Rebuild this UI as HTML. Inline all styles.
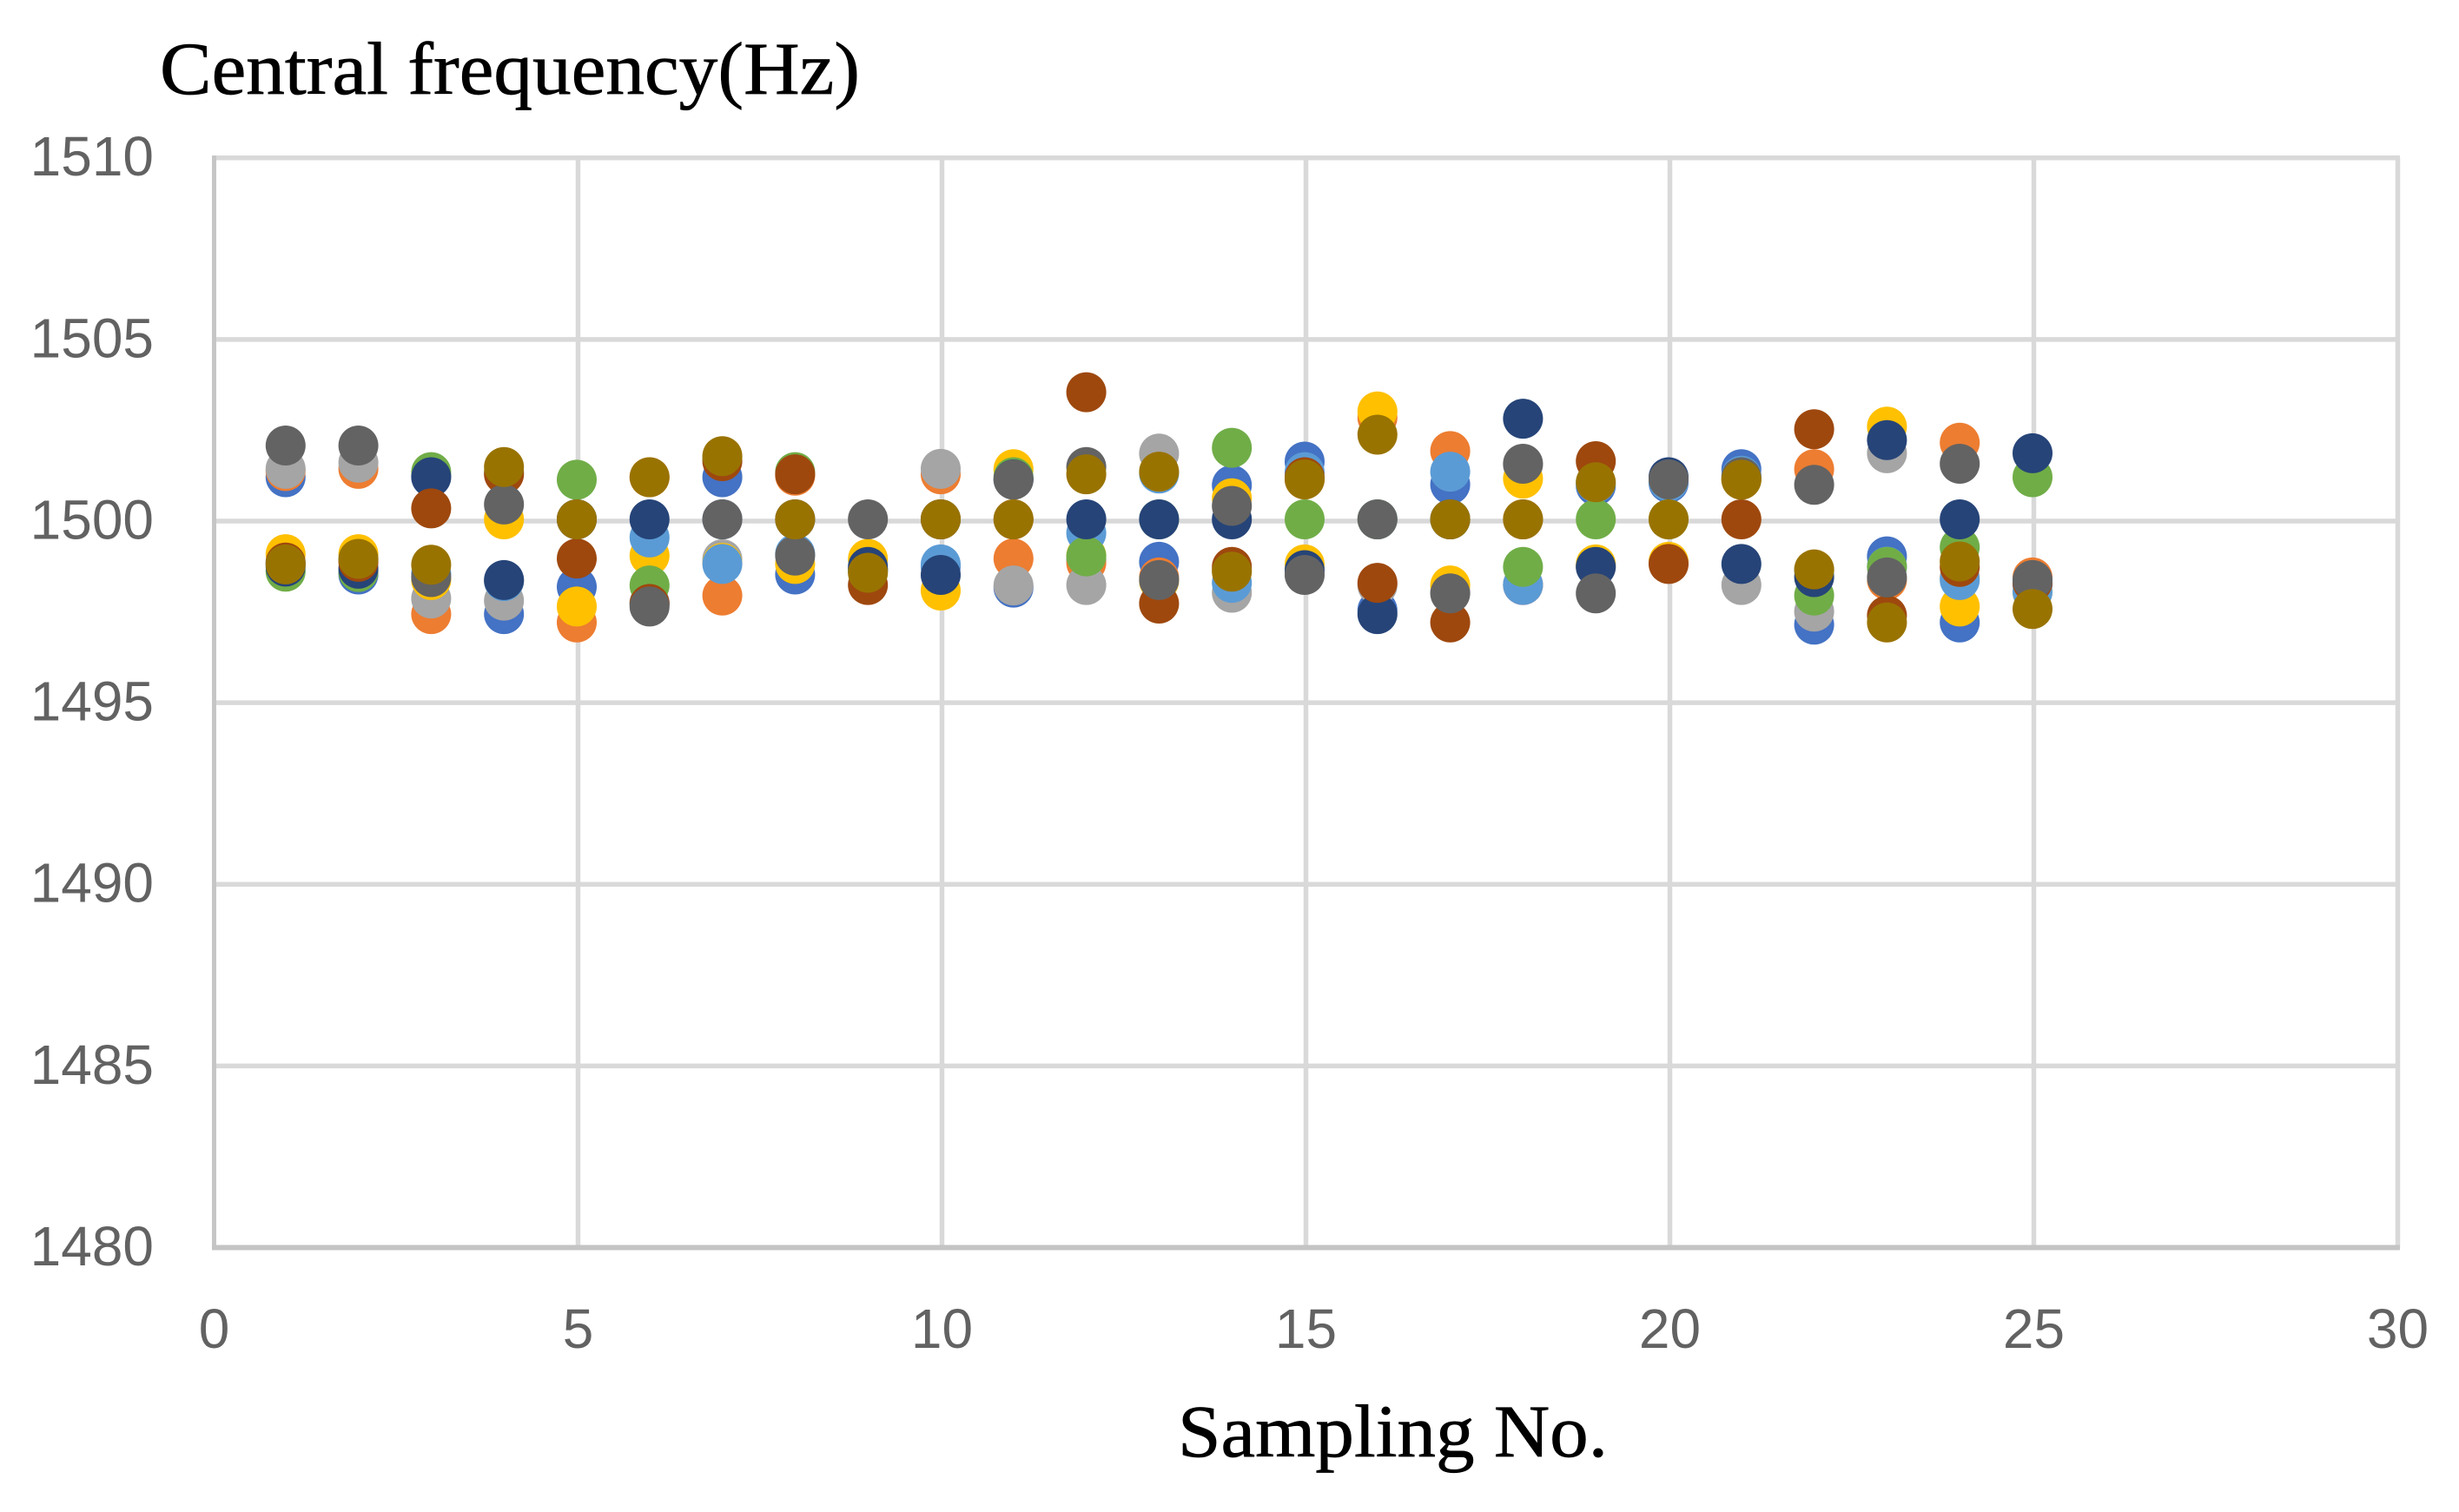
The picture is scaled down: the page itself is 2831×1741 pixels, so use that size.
<!DOCTYPE html>
<html lang="en">
<head>
<meta charset="utf-8">
<title>Central frequency by sampling number</title>
<style>
  html, body { margin: 0; padding: 0; background: #ffffff; }
  svg { display: block; }
  .tick { font-family: "Liberation Sans", sans-serif; font-size: 64px; fill: #626262; }
  .axis-title { font-family: "Liberation Serif", serif; font-size: 86px; fill: #000000; stroke: #000000; stroke-width: 0.7px; }
</style>
</head>
<body>
<svg id="chart" xmlns="http://www.w3.org/2000/svg" width="2831" height="1741" viewBox="0 0 2831 1741">
  <rect x="0" y="0" width="2831" height="1741" fill="#ffffff"/>
  <g id="grid"></g>
  <g id="axes"></g>
  <g id="ticks"></g>
  <g id="marks"></g>
  <text class="axis-title" x="184" y="108" textLength="806" lengthAdjust="spacingAndGlyphs">Central frequency(Hz)</text>
  <text class="axis-title" x="1356" y="1677" textLength="495" lengthAdjust="spacingAndGlyphs">Sampling No.</text>
</svg>
<script>
const sampleNumbers = [1,2,3,4,5,6,7,8,9,10,11,12,13,14,15,16,17,18,19,20,21,22,23,24,25];
const xTicks = [0,5,10,15,20,25,30];
const yTicks = [1480,1485,1490,1495,1500,1505,1510];

const series1 = [1501.16,1498.48,1501.2,1497.39,1498.14,1497.7,1501.16,1498.48,1498.6,1498.7,1498.12,1498.9,1498.83,1500.94,1501.59,1497.5,1500.96,1498.19,1500.92,1501.0,1501.38,1497.1,1498.98,1497.16,1498.2];
const series2 = [1501.33,1501.39,1497.39,1498.3,1497.16,1501.16,1497.9,1501.2,1498.6,1501.24,1498.92,1498.8,1498.4,1498.6,1501.1,1502.8,1501.88,1498.2,1498.7,1498.8,1501.1,1501.38,1498.33,1502.11,1498.4];
const series3 = [1501.39,1501.56,1497.82,1497.76,1500,1497.7,1498.9,1500,1498.6,1501.39,1498.18,1498.19,1501.81,1497.98,1498.5,1498.18,1498,1501.5,1498.7,1498.8,1498.19,1497.46,1501.82,1498.4,1498.3];
const series4 = [1499.04,1499.04,1498.33,1500,1497.6,1499,1498.8,1498.77,1498.91,1498.04,1501.38,1499,1498.3,1500.58,1498.76,1502.97,1498.18,1501.12,1498.76,1498.83,1501.1,1498.6,1502.55,1497.6,1498];
const series5 = [1498.8,1498.9,1498.5,1498.3,1500,1499.5,1498.77,1499.05,1498.6,1498.76,1501.1,1499.62,1501.26,1498.25,1501.3,1500,1501.31,1498.2,1501,1501.04,1501.2,1498.6,1498.7,1498.33,1498];
const series6 = [1498.56,1498.55,1501.3,1501.3,1501.09,1498.18,1501.7,1501.3,1498.6,1500,1501.16,1498.98,1500,1501.97,1500,1500,1500,1498.69,1500,1500,1501.1,1497.9,1498.69,1499.23,1501.16];
const series7 = [1498.7,1498.64,1501.16,1498.33,1500,1500,1500,1500,1498.69,1498.47,1501.1,1500,1500,1500,1498.6,1497.39,1500,1502.77,1498.69,1501.16,1498.77,1498.41,1502.18,1500,1501.82];
const series8 = [1498.81,1498.83,1500.3,1501.24,1498.92,1497.67,1501.6,1501.24,1498.19,1500,1500,1503.5,1497.68,1498.69,1501.16,1498.25,1497.16,1500,1501.6,1498.77,1500,1502.48,1497.35,1498.69,1498.26];
const series9 = [1502.03,1502.03,1498.41,1500.41,1500,1497.6,1500,1499,1500,1500,1501.09,1501.44,1498.33,1500.37,1498.47,1500,1497.96,1501.53,1497.96,1501.1,1501.16,1500.95,1498.4,1501.53,1498.33];
const series10 = [1498.76,1498.91,1498.75,1501.44,1500,1501.16,1501.74,1500,1498.53,1500,1500,1501.24,1501.31,1498.56,1501.1,1502.33,1500,1500,1501.02,1500,1501.09,1498.62,1497.16,1498.84,1497.53];

const allSeries = [series1, series2, series3, series4, series5, series6, series7, series8, series9, series10];
const seriesColors = ["#4472C4","#ED7D31","#A5A5A5","#FFC000","#5B9BD5","#70AD47","#264478","#9E480E","#636363","#997300"];

const SVG_NS = "http://www.w3.org/2000/svg";
const plot = { left: 246.5, right: 2760.5, top: 181.7, bottom: 1436.5 };
const xMin = 0, xMax = 30, yMin = 1480, yMax = 1510;
const markRadius = 23;
const markShift = -2;
const markShiftX = -1.5;

function xScale(v) { return plot.left + (v - xMin) / (xMax - xMin) * (plot.right - plot.left); }
function yScale(v) { return plot.bottom - (v - yMin) / (yMax - yMin) * (plot.bottom - plot.top); }

const gridGroup = document.getElementById("grid");
const axesGroup = document.getElementById("axes");
const tickGroup = document.getElementById("ticks");
const markGroup = document.getElementById("marks");

function makeLine(x1, y1, x2, y2, color, width) {
  const ln = document.createElementNS(SVG_NS, "line");
  ln.setAttribute("x1", x1);
  ln.setAttribute("y1", y1);
  ln.setAttribute("x2", x2);
  ln.setAttribute("y2", y2);
  ln.setAttribute("stroke", color);
  ln.setAttribute("stroke-width", width);
  return ln;
}

xTicks.forEach(function (t) {
  const x = xScale(t);
  if (t !== xMin) {
    const ln = makeLine(x, plot.top, x, plot.bottom, "#d9d9d9", 5.5);
    
    
    gridGroup.appendChild(ln);
  }
  const label = document.createElementNS(SVG_NS, "text");
  label.setAttribute("class", "tick");
  label.setAttribute("x", x);
  label.setAttribute("y", 1552);
  label.setAttribute("text-anchor", "middle");
  label.textContent = t;
  
  
  tickGroup.appendChild(label);
});

yTicks.forEach(function (t) {
  const y = yScale(t);
  if (t !== yMin) {
    const ln = makeLine(plot.left - 2.5, y, plot.right + 2.5, y, "#d9d9d9", 5.5);
    
    
    gridGroup.appendChild(ln);
  }
  const label = document.createElementNS(SVG_NS, "text");
  label.setAttribute("class", "tick");
  label.setAttribute("x", 177);
  label.setAttribute("y", y + 20.5);
  label.setAttribute("text-anchor", "end");
  label.textContent = t;
  
  
  tickGroup.appendChild(label);
});

const yAxisLine = makeLine(plot.left, plot.top - 2.5, plot.left, plot.bottom, "#c6c6c6", 5);


axesGroup.appendChild(yAxisLine);

const xAxisLine = makeLine(plot.left - 2.5, plot.bottom, plot.right + 2.5, plot.bottom, "#c4c4c4", 6);


axesGroup.appendChild(xAxisLine);

allSeries.forEach(function (values, s) {
  const group = document.createElementNS(SVG_NS, "g");
  group.setAttribute("fill", seriesColors[s]);
  
  
  values.forEach(function (v, i) {
    const dot = document.createElementNS(SVG_NS, "circle");
    dot.setAttribute("cx", xScale(sampleNumbers[i]) + markShiftX);
    dot.setAttribute("cy", yScale(v) + markShift);
    dot.setAttribute("r", markRadius);
    
    
    group.appendChild(dot);
  });
  markGroup.appendChild(group);
});
</script>
</body>
</html>
